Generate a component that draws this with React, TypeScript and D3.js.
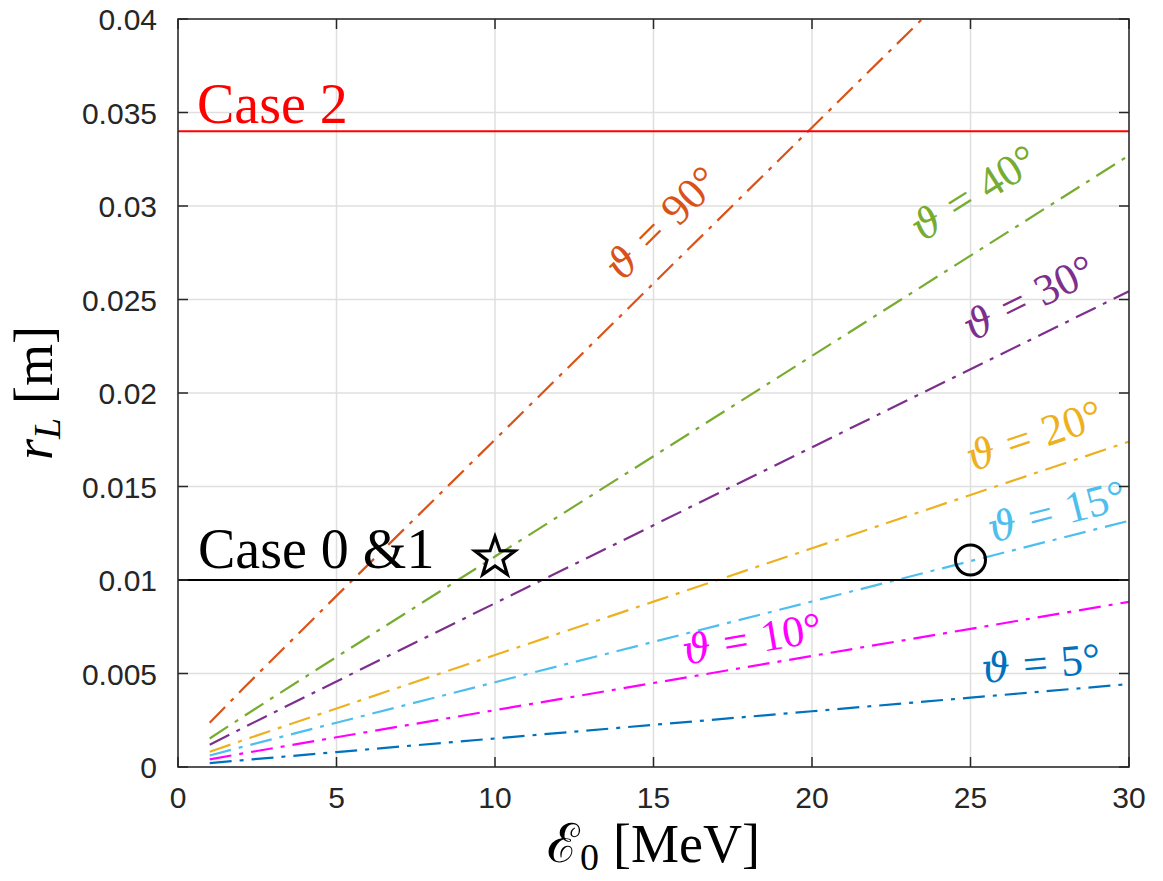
import React from "react";
import * as d3 from "d3";

// ---- data ----
const energyMeV = [1, 2, 3, 5, 10, 15, 20, 25, 30];
const r90 = [0.00237, 0.0041, 0.00579, 0.00915, 0.01751, 0.02586, 0.0342, 0.04254, 0.05088];
const r40 = [0.001525, 0.002635, 0.003724, 0.005883, 0.011255, 0.01662, 0.021983, 0.027345, 0.032706];
const r30 = [0.001186, 0.00205, 0.002897, 0.004576, 0.008755, 0.012928, 0.0171, 0.02127, 0.02544];
const r20 = [0.000811, 0.001402, 0.001981, 0.00313, 0.005989, 0.008843, 0.011696, 0.014549, 0.017401];
const r15 = [0.000614, 0.001061, 0.001499, 0.002369, 0.004532, 0.006692, 0.008851, 0.01101, 0.013168];
const r10 = [0.000412, 0.000712, 0.001006, 0.001589, 0.003041, 0.00449, 0.005939, 0.007387, 0.008835];
const r5 = [0.000207, 0.000357, 0.000505, 0.000798, 0.001526, 0.002254, 0.002981, 0.003708, 0.004435];

const angleNames = ["90°", "40°", "30°", "20°", "15°", "10°", "5°"];
const seriesValues = [r90, r40, r30, r20, r15, r10, r5];
const seriesColors = ["#D95319", "#77AC30", "#7E2F8E", "#EDB120", "#4DBEEE", "#FF00FF", "#0072BD"];
// label anchor (baseline start) in data units
const labelX = [14.0, 23.47, 25.05, 25.05, 25.68, 15.99, 25.39];
const labelY = [0.02588, 0.02802, 0.02273, 0.01578, 0.01198, 0.00545, 0.00449];

const case2Level = 0.034;
const case01Level = 0.01;
const starPoint = { e: 10, r: 0.0112 };
const circlePoint = { e: 25, r: 0.01107 };

const xTicks = [0, 5, 10, 15, 20, 25, 30];
const xTickLabels = ["0", "5", "10", "15", "20", "25", "30"];
const yTicks = [0, 0.005, 0.01, 0.015, 0.02, 0.025, 0.03, 0.035, 0.04];
const yTickLabels = ["0", "0.005", "0.01", "0.015", "0.02", "0.025", "0.03", "0.035", "0.04"];

// ---- layout ----
const W = 1163;
const H = 881;
const L = 178, R = 1129, T = 19, B = 767;
const axisColor = "#262626";
const gridColor = "#dfdfdf";
const serif = "'Liberation Serif', 'Times New Roman', 'DejaVu Serif', serif";
const greek = "'DejaVu Serif', 'Liberation Serif', serif";
const sans = "'Liberation Sans', Arial, Helvetica, sans-serif";

export default function App() {
  const x = d3.scaleLinear().domain([0, 30]).range([L, R]);
  const y = d3.scaleLinear().domain([0, 0.04]).range([B, T]);

  const line = d3
    .line<number>()
    .x((_, i) => x(energyMeV[i]))
    .y((d) => y(d));

  const slopeAngle = (vals: number[], ex: number) => {
    let i = energyMeV.findIndex((e) => e >= ex);
    if (i < 1) i = 1;
    const dx = x(energyMeV[i]) - x(energyMeV[i - 1]);
    const dy = y(vals[i]) - y(vals[i - 1]);
    return (Math.atan2(dy, dx) * 180) / Math.PI;
  };

  const starPath = (() => {
    const Ro = 21, Ri = 21 * 0.4;
    const pts: [number, number][] = [];
    for (let k = 0; k < 10; k++) {
      const rr = k % 2 === 0 ? Ro : Ri;
      const a = -Math.PI / 2 + (k * Math.PI) / 5;
      pts.push([rr * Math.cos(a), rr * Math.sin(a)]);
    }
    return "M" + pts.map((p) => p.join(",")).join("L") + "Z";
  })();

  return (
    <svg width={W} height={H} style={{ position: "absolute", left: 0, top: 0, background: "#fff" }}>
      <defs>
        <clipPath id="plotClip">
          <rect x={L} y={T} width={R - L} height={B - T} />
        </clipPath>
      </defs>
      <rect x={0} y={0} width={W} height={H} fill="#fff" />
      {/* grid */}
      <g stroke={gridColor} strokeWidth={1.5}>
        {xTicks.map((t) => (
          <line key={"gx" + t} x1={x(t)} x2={x(t)} y1={T} y2={B} />
        ))}
        {yTicks.map((t) => (
          <line key={"gy" + t} x1={L} x2={R} y1={y(t)} y2={y(t)} />
        ))}
      </g>

      {/* series */}
      <g clipPath="url(#plotClip)" fill="none">
        {seriesValues.map((vals, i) => (
          <path
            key={"s" + i}
            d={line(vals) || ""}
            stroke={seriesColors[i]}
            strokeWidth={2.2}
            strokeDasharray="22,8,4,8"
          />
        ))}
        <line x1={L} x2={R} y1={y(case2Level)} y2={y(case2Level)} stroke="#FF0000" strokeWidth={2} />
        <line x1={L} x2={R} y1={y(case01Level)} y2={y(case01Level)} stroke="#000" strokeWidth={2} />
      </g>

      {/* markers */}
      <path
        d={starPath}
        transform={`translate(${x(starPoint.e)},${y(starPoint.r)})`}
        fill="none"
        stroke="#000"
        strokeWidth={3.2}
        strokeLinejoin="miter"
      />
      <circle cx={x(circlePoint.e)} cy={y(circlePoint.r)} r={15} fill="none" stroke="#000" strokeWidth={3} />

      {/* case texts */}
      <text x={x(0.6)} y={y(0.03444)} fontFamily={serif} fontSize={56} fill="#FF0000">
        Case 2
      </text>
      <text x={x(0.63)} y={y(0.01064)} fontFamily={serif} fontSize={56} fill="#000">
        Case 0 &amp;1
      </text>

      {/* angle labels */}
      {angleNames.map((nm, i) => {
        const ang = slopeAngle(seriesValues[i], labelX[i]);
        const px = x(labelX[i]);
        const py = y(labelY[i]);
        return (
          <text
            key={"lab" + i}
            transform={`translate(${px},${py}) rotate(${ang})`}
            fontFamily={serif}
            fontSize={44}
            fill={seriesColors[i]}
          >
            <tspan fontFamily={greek} fontStyle="italic" fontSize={40}>ϑ</tspan>
            <tspan dx={13}>=</tspan>
            <tspan dx={13}>{nm}</tspan>
          </text>
        );
      })}

      {/* axes box */}
      <rect x={L} y={T} width={R - L} height={B - T} fill="none" stroke={axisColor} strokeWidth={1.5} />
      <g stroke={axisColor} strokeWidth={1.5}>
        {xTicks.map((t) => (
          <g key={"xt" + t}>
            <line x1={x(t)} x2={x(t)} y1={B} y2={B - 10} />
            <line x1={x(t)} x2={x(t)} y1={T} y2={T + 10} />
          </g>
        ))}
        {yTicks.map((t) => (
          <g key={"yt" + t}>
            <line x1={L} x2={L + 10} y1={y(t)} y2={y(t)} />
            <line x1={R} x2={R - 10} y1={y(t)} y2={y(t)} />
          </g>
        ))}
      </g>
      {/* tick labels */}
      <g fontFamily={sans} fontSize={30} fill={axisColor}>
        {xTicks.map((t, i) => (
          <text key={"xl" + t} x={x(t)} y={808} textAnchor="middle">
            {xTickLabels[i]}
          </text>
        ))}
        {yTicks.map((t, i) => (
          <text key={"yl" + t} x={L - 21} y={y(t) + 11} textAnchor="end">
            {yTickLabels[i]}
          </text>
        ))}
      </g>

      {/* axis labels */}
      <text x={(L + R) / 2} y={862} textAnchor="middle" fontFamily={serif} fontSize={54} fill="#000">
        <tspan>ℰ</tspan>
        <tspan fontSize={38} dy={8}>0</tspan>
        <tspan dx={14} dy={-8}>[MeV]</tspan>
      </text>
      <text
        transform={`translate(52,${(T + B) / 2}) rotate(-90)`}
        textAnchor="middle"
        fontFamily={serif}
        fontSize={54}
        fill="#000"
      >
        <tspan fontStyle="italic">r</tspan>
        <tspan fontStyle="italic" fontSize={38} dy={8}>L</tspan>
        <tspan dx={14} dy={-8}>[m]</tspan>
      </text>
    </svg>
  );
}
